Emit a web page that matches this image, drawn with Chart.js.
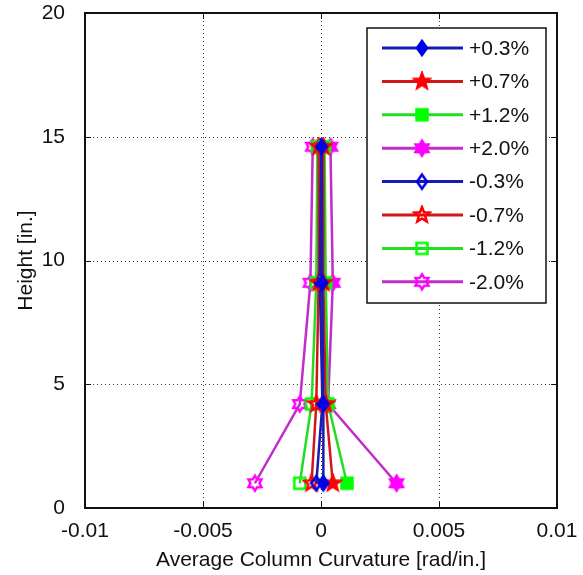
<!DOCTYPE html>
<html>
<head>
<meta charset="utf-8">
<script src="https://cdn.jsdelivr.net/npm/chart.js@4"></script>
<style>
  html, body { margin: 0; padding: 0; background: #fff; }
</style>
</head>
<body>
<canvas id="curvatureChart" width="583" height="575"></canvas>
<script>
// Gauge heights along the column [in.]
const heights = [1.0, 4.2, 9.1, 14.6]

// Drift levels, in legend order
const driftLabels = ["+0.3%", "+0.7%", "+1.2%", "+2.0%", "-0.3%", "-0.7%", "-1.2%", "-2.0%"]

// Average curvature at each gauge height [rad/in.]
const curvPos03 = [0.0001, 0.0001, 0.00005, 0.00003]
const curvPos07 = [0.0005, 0.0002, 0.0001, 0.0001]
const curvPos12 = [0.0011, 0.0003, 0.0002, 0.00015]
const curvPos20 = [0.0032, 0.0003, 0.0005, 0.0004]
const curvNeg03 = [-0.0002, 0.00006, -0.00005, 0.0]
const curvNeg07 = [-0.0004, -0.0002, -0.0001, -0.0001]
const curvNeg12 = [-0.0009, -0.0004, -0.0002, -0.00015]
const curvNeg20 = [-0.0028, -0.0009, -0.00045, -0.00035]

const curvatures = [curvPos03, curvPos07, curvPos12, curvPos20, curvNeg03, curvNeg07, curvNeg12, curvNeg20]

// Axis ticks
const xTicks = [-0.01, -0.005, 0, 0.005, 0.01]
const yTicks = [0, 5, 10, 15, 20]

const FONT = "'Liberation Sans', Arial, sans-serif"
const FONT_SIZE = 21

// line colour, marker colour, marker shape per drift level
const styles = [
  { line: "#1a1ab0", mark: "#0000e6", shape: "diamond", filled: true },
  { line: "#d01818", mark: "#ff0000", shape: "pentagram", filled: true },
  { line: "#22dd22", mark: "#00ff00", shape: "square", filled: true },
  { line: "#c22cc8", mark: "#ff00ff", shape: "hexagram", filled: true },
  { line: "#1a1ab0", mark: "#0000e6", shape: "diamond", filled: false },
  { line: "#d01818", mark: "#ff0000", shape: "pentagram", filled: false },
  { line: "#22dd22", mark: "#00ff00", shape: "square", filled: false },
  { line: "#c22cc8", mark: "#ff00ff", shape: "hexagram", filled: false },
]

// Small canvas used as a point style
function makeMarker(shape, color, filled) {
  const size = 20
  const c = document.createElement("canvas")
  c.width = size
  c.height = size
  const ctx = c.getContext("2d")
  const m = size / 2
  ctx.beginPath()
  if (shape === "diamond") {
    ctx.moveTo(m, m - 7)
    ctx.lineTo(m + 5, m)
    ctx.lineTo(m, m + 7)
    ctx.lineTo(m - 5, m)
  } else if (shape === "square") {
    ctx.rect(m - 5.5, m - 5.5, 11, 11)
  } else {
    const n = shape === "pentagram" ? 5 : 6
    const outer = shape === "pentagram" ? 8 : 7.5
    const inner = shape === "pentagram" ? 3.4 : 4.5
    for (let i = 0; i < 2 * n; i++) {
      const r = i % 2 ? inner : outer
      const a = -Math.PI / 2 + (i * Math.PI) / n
      const px = m + r * Math.cos(a)
      const py = m + r * Math.sin(a)
      if (i === 0) ctx.moveTo(px, py)
      else ctx.lineTo(px, py)
    }
  }
  ctx.closePath()
  if (filled) {
    ctx.fillStyle = color
    ctx.fill()
  }
  ctx.lineWidth = 2.5
  ctx.strokeStyle = color
  ctx.stroke()
  return c
}

const datasets = driftLabels.map((label, i) => {
  const s = styles[i]
  return {
    label: label,
    data: heights.map((h, k) => ({ x: curvatures[i][k], y: h })),
    borderColor: s.line,
    backgroundColor: s.mark,
    borderWidth: 2.5,
    pointStyle: makeMarker(s.shape, s.mark, s.filled),
    pointRadius: 6,
    tension: 0,
  }
})

// Dotted grid at the tick positions
const gridPlugin = {
  id: "dottedGrid",
  beforeDatasetsDraw(chart) {
    const { ctx, chartArea: a, scales } = chart
    ctx.save()
    ctx.strokeStyle = "#333"
    ctx.lineWidth = 1
    ctx.setLineDash([1, 3])
    xTicks.forEach((v) => {
      const px = Math.round(scales.x.getPixelForValue(v)) + 0.5
      ctx.beginPath()
      ctx.moveTo(px, a.top)
      ctx.lineTo(px, a.bottom)
      ctx.stroke()
    })
    yTicks.forEach((v) => {
      const py = Math.round(scales.y.getPixelForValue(v)) + 0.5
      ctx.beginPath()
      ctx.moveTo(a.left, py)
      ctx.lineTo(a.right, py)
      ctx.stroke()
    })
    ctx.restore()
  },
}

// Axes box with inward tick marks, then the legend on top
const framePlugin = {
  id: "frameAndLegend",
  afterDatasetsDraw(chart) {
    const { ctx, chartArea: a, scales } = chart
    const tl = 6
    ctx.save()
    ctx.strokeStyle = "#111"
    ctx.lineWidth = 1
    xTicks.forEach((v) => {
      const px = Math.round(scales.x.getPixelForValue(v)) + 0.5
      ctx.beginPath()
      ctx.moveTo(px, a.bottom)
      ctx.lineTo(px, a.bottom - tl)
      ctx.moveTo(px, a.top)
      ctx.lineTo(px, a.top + tl)
      ctx.stroke()
    })
    yTicks.forEach((v) => {
      const py = Math.round(scales.y.getPixelForValue(v)) + 0.5
      ctx.beginPath()
      ctx.moveTo(a.left, py)
      ctx.lineTo(a.left + tl, py)
      ctx.moveTo(a.right, py)
      ctx.lineTo(a.right - tl, py)
      ctx.stroke()
    })
    ctx.lineWidth = 2
    ctx.strokeRect(a.left, a.top, a.right - a.left, a.bottom - a.top)

    // legend box in the upper right corner
    const lw = 179
    const lh = 275
    const lx = a.right - 11 - lw
    const ly = a.top + 15
    ctx.fillStyle = "#fff"
    ctx.fillRect(lx, ly, lw, lh)
    ctx.lineWidth = 1.5
    ctx.strokeStyle = "#111"
    ctx.strokeRect(lx, ly, lw, lh)
    ctx.font = FONT_SIZE + "px " + FONT
    ctx.textBaseline = "middle"
    ctx.textAlign = "left"
    chart.data.datasets.forEach((ds, i) => {
      const yy = ly + 20 + i * 33.4
      ctx.strokeStyle = ds.borderColor
      ctx.lineWidth = 3
      ctx.beginPath()
      ctx.moveTo(lx + 15, yy)
      ctx.lineTo(lx + 96, yy)
      ctx.stroke()
      const mk = ds.pointStyle
      ctx.drawImage(mk, lx + 55 - mk.width / 2, yy - mk.height / 2)
      ctx.fillStyle = "#111"
      ctx.fillText(ds.label, lx + 102, yy + 1)
    })
    ctx.restore()
  },
}

function fmtTick(v) {
  return String(Number(v.toFixed(4)))
}

new Chart(document.getElementById("curvatureChart"), {
  type: "line",
  data: { datasets: datasets },
  plugins: [gridPlugin, framePlugin],
  options: {
    responsive: false,
    animation: false,
    devicePixelRatio: 1,
    layout: { padding: { top: 0, right: 26, left: 0, bottom: 0 } },
    plugins: {
      legend: { display: false },
      tooltip: { enabled: false },
    },
    scales: {
      x: {
        type: "linear",
        min: -0.01,
        max: 0.01,
        afterBuildTicks: (scale) => {
          scale.ticks = xTicks.map((v) => ({ value: v }))
        },
        afterFit: (scale) => {
          scale.height = 67
        },
        grid: { display: false },
        border: { display: false },
        ticks: {
          color: "#111",
          font: { family: FONT, size: FONT_SIZE },
          padding: 3,
          maxRotation: 0,
          autoSkip: false,
          callback: (v) => fmtTick(v),
        },
        title: {
          display: true,
          text: "Average Column Curvature [rad/in.]",
          color: "#111",
          font: { family: FONT, size: FONT_SIZE },
          padding: { top: 0, bottom: 2 },
        },
      },
      y: {
        type: "linear",
        min: 0,
        max: 20,
        afterBuildTicks: (scale) => {
          scale.ticks = yTicks.map((v) => ({ value: v }))
        },
        afterFit: (scale) => {
          scale.width = 85
          scale.paddingTop = 13
        },
        grid: { display: false },
        border: { display: false },
        ticks: {
          color: "#111",
          font: { family: FONT, size: FONT_SIZE },
          padding: 12,
          autoSkip: false,
          callback: (v) => fmtTick(v),
        },
        title: {
          display: true,
          text: "Height [in.]",
          color: "#111",
          font: { family: FONT, size: FONT_SIZE },
          padding: { top: 14, bottom: 0 },
        },
      },
    },
  },
})
</script>
</body>
</html>
